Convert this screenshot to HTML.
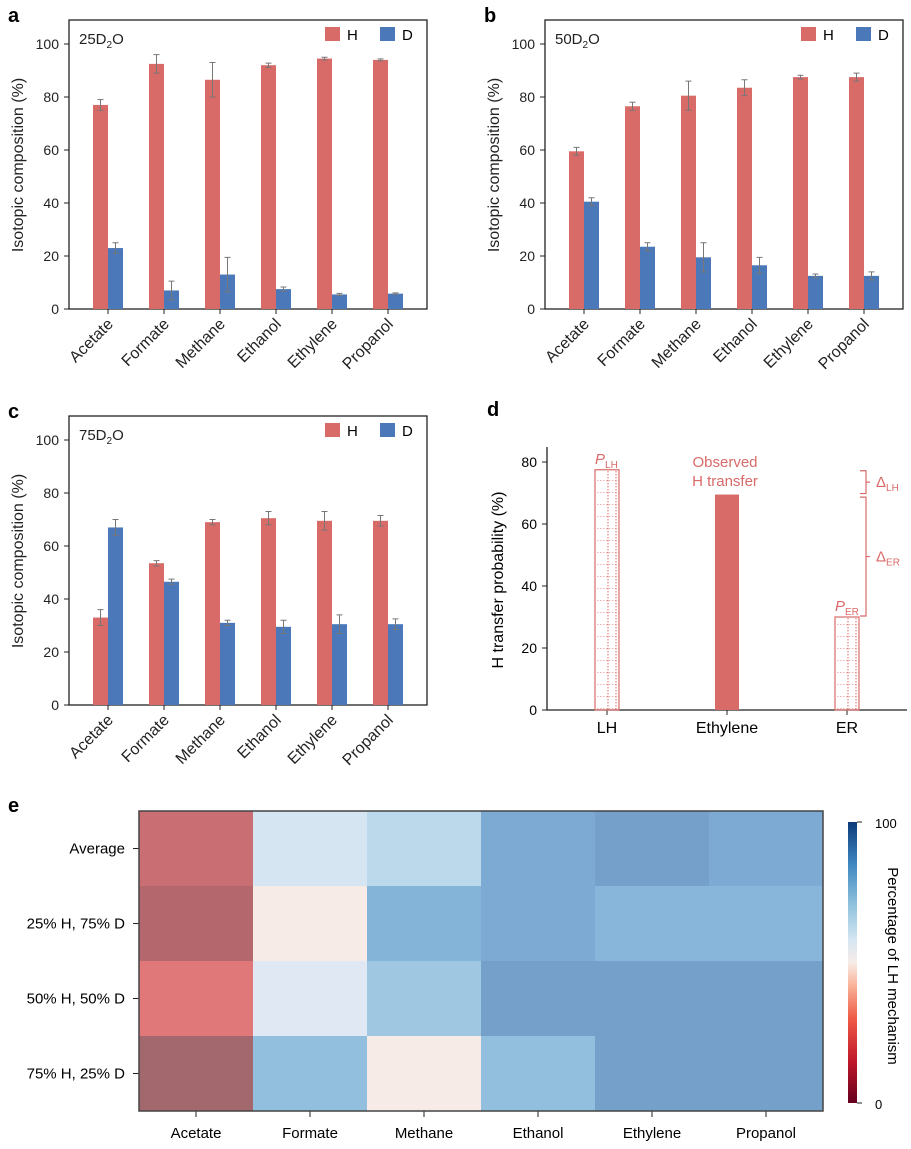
<!DOCTYPE html>
<html><head><meta charset="utf-8"><style>
html,body{margin:0;padding:0;background:#fff}
svg{display:block;font-family:"Liberation Sans",sans-serif}
</style></head><body>
<svg id="fig" width="911" height="1149" viewBox="0 0 911 1149" xmlns="http://www.w3.org/2000/svg">
<defs>
<pattern id="hatch" width="24" height="12" patternUnits="userSpaceOnUse">
<line x1="0" y1="0" x2="24" y2="0" stroke="#d86a68" stroke-width="1" stroke-dasharray="1.5,1.5"/>
<line x1="8" y1="0" x2="8" y2="12" stroke="#d86a68" stroke-width="1" stroke-dasharray="1.5,1.5"/>
<line x1="16" y1="0" x2="16" y2="12" stroke="#d86a68" stroke-width="1" stroke-dasharray="1.5,1.5"/>
</pattern>
<linearGradient id="cbar" x1="0" y1="1" x2="0" y2="0">
<stop offset="0" stop-color="#67001f"/><stop offset="0.15" stop-color="#c0182a"/><stop offset="0.3" stop-color="#ef5a45"/><stop offset="0.42" stop-color="#f9b49a"/><stop offset="0.5" stop-color="#f7ece8"/><stop offset="0.58" stop-color="#d5e6f2"/><stop offset="0.7" stop-color="#93c4de"/><stop offset="0.85" stop-color="#3d87c0"/><stop offset="1" stop-color="#0b3a79"/>
</linearGradient>
</defs>
<g id="root"></g>
</svg>
<script>
const cats = ["Acetate","Formate","Methane","Ethanol","Ethylene","Propanol"];
const aH = [77, 92.5, 86.5, 92, 94.5, 94];
const aHerr = [2, 3.5, 6.5, 0.8, 0.5, 0.4];
const aD = [23, 7, 13, 7.5, 5.5, 5.8];
const aDerr = [2, 3.5, 6.5, 0.8, 0.4, 0.3];
const bH = [59.5, 76.5, 80.5, 83.5, 87.5, 87.5];
const bHerr = [1.5, 1.5, 5.5, 3, 0.7, 1.5];
const bD = [40.5, 23.5, 19.5, 16.5, 12.5, 12.5];
const bDerr = [1.5, 1.5, 5.5, 3, 0.7, 1.5];
const cH = [33, 53.5, 69, 70.5, 69.5, 69.5];
const cHerr = [3, 1, 1, 2.5, 3.5, 2];
const cD = [67, 46.5, 31, 29.5, 30.5, 30.5];
const cDerr = [3, 1, 1, 2.5, 3.5, 2];
const yTicks = [0, 20, 40, 60, 80, 100];
const dCats = ["LH","Ethylene","ER"];
const dVals = [77.5, 69.5, 30];
const dTicks = [0, 20, 40, 60, 80];
const hmRows = ["Average","25% H, 75% D","50% H, 50% D","75% H, 25% D"];
const hmVals = [
 [15, 58, 62, 78, 82, 78],
 [10, 50, 75, 78, 73, 73],
 [20, 55, 66, 82, 82, 82],
 [0, 70, 50, 70, 82, 82]
];

const NS = "http://www.w3.org/2000/svg";
const root = document.getElementById("root");
function el(tag, attrs, parent, text){
  const e = document.createElementNS(NS, tag);
  for (const k in attrs) e.setAttribute(k, attrs[k]);
  if (text !== undefined) e.textContent = text;
  (parent || root).appendChild(e);
  return e;
}
const HC = "#d86a68", DC = "#4a78b8";

function barPanel(ox, oy, letter, tag, H, Herr, D, Derr){
  const g = el("g", {});
  
  
  const L = ox + 69, R = ox + 427, T = oy + 20, B = oy + 309;
  const y = v => B - v * 2.65;
  const x = i => ox + 108 + i * 56;
  const t = el("text", {x: ox + 8, y: oy + 22, "font-size": 20, "font-weight": "bold"}, g, letter);
  
  
  const fr = el("rect", {x: L, y: T, width: R - L, height: B - T, fill: "none", stroke: "#222", "stroke-width": 1.3}, g);
  
  
  yTicks.forEach(v => {
    el("line", {x1: L - 5, x2: L, y1: y(v), y2: y(v), stroke: "#222"}, g);
    const tl = el("text", {x: L - 10, y: y(v) + 5, "text-anchor": "end", "font-size": 14, fill: "#222"}, g, v);
    
    
  });
  const yt = el("text", {transform: `translate(${ox + 23},${oy + 165}) rotate(-90)`, "text-anchor": "middle", "font-size": 16, fill: "#222"}, g, "Isotopic composition (%)");
  
  
  cats.forEach((c, i) => {
    el("line", {x1: x(i), x2: x(i), y1: B, y2: B + 5, stroke: "#222"}, g);
    const hb = el("rect", {x: x(i) - 15, y: y(H[i]), width: 15, height: B - y(H[i]), fill: HC}, g);
    
    
    const db = el("rect", {x: x(i), y: y(D[i]), width: 15, height: B - y(D[i]), fill: DC}, g);
    
    
    [[x(i) - 7.5, H[i], Herr[i]], [x(i) + 7.5, D[i], Derr[i]]].forEach(([cx, v, e]) => {
      const eb = el("path", {d: `M${cx},${y(v - e)}V${y(v + e)}M${cx - 3},${y(v + e)}H${cx + 3}M${cx - 3},${y(v - e)}H${cx + 3}`, stroke: "#777", "stroke-width": 1, fill: "none"}, g);
      
      
    });
    const xl = el("text", {transform: `translate(${x(i) + 6},${B + 16}) rotate(-45)`, "text-anchor": "end", "font-size": 16, fill: "#222"}, g, c);
    
    
  });
  const lab = el("text", {x: ox + 79, y: oy + 44, "font-size": 15, fill: "#222"}, g);
  
  
  el("tspan", {}, lab, tag + "D");
  el("tspan", {"font-size": 10, dy: 4}, lab, "2");
  el("tspan", {dy: -4}, lab, "O");
  const lh = el("rect", {x: ox + 325, y: oy + 27, width: 15, height: 14, fill: HC}, g);
  
  
  const lht = el("text", {x: ox + 347, y: oy + 40, "font-size": 15}, g, "H");
  
  
  const ld = el("rect", {x: ox + 380, y: oy + 27, width: 15, height: 14, fill: DC}, g);
  
  
  const ldt = el("text", {x: ox + 402, y: oy + 40, "font-size": 15}, g, "D");
  
  
}
barPanel(0, 0, "a", "25", aH, aHerr, aD, aDerr);
barPanel(476, 0, "b", "50", bH, bHerr, bD, bDerr);
barPanel(0, 396, "c", "75", cH, cHerr, cD, cDerr);

// Panel d
(function(){
  const g = el("g", {});
  
  
  const L = 547, R = 907, B = 710, T = 447;
  const y = v => B - v * 3.1;
  const x = i => 607 + i * 120;
  const t = el("text", {x: 487, y: 416, "font-size": 20, "font-weight": "bold"}, g, "d");
  
  
  el("path", {d: `M${L},${T}V${B}H${R}`, stroke: "#222", fill: "none", "stroke-width": 1.3}, g);
  dTicks.forEach(v => {
    el("line", {x1: L - 5, x2: L, y1: y(v), y2: y(v), stroke: "#222"}, g);
    const tl = el("text", {x: L - 10, y: y(v) + 5, "text-anchor": "end", "font-size": 14}, g, v);
    
    
  });
  const yt = el("text", {transform: `translate(503,580) rotate(-90)`, "text-anchor": "middle", "font-size": 16}, g, "H transfer probability (%)");
  
  
  dCats.forEach((c, i) => {
    el("line", {x1: x(i), x2: x(i), y1: B, y2: B + 5, stroke: "#222"}, g);
    const xl = el("text", {x: x(i), y: B + 23, "text-anchor": "middle", "font-size": 16}, g, c);
    
    
    const hatched = i !== 1;
    const b = el("rect", {x: x(i) - 12, y: y(dVals[i]), width: 24, height: B - y(dVals[i]), fill: hatched ? "url(#hatch)" : HC, stroke: hatched ? HC : "none", "stroke-width": 1.2}, g);
    
    
  });
  const red = "#d86a68";
  function sub(xx, yy, main, s, italic, name){
    const tt = el("text", {x: xx, y: yy, "font-size": 15, fill: red}, g);
    
    
    el("tspan", italic ? {"font-style": "italic"} : {}, tt, main);
    el("tspan", {"font-size": 10, dy: 4}, tt, s);
  }
  sub(x(0) - 12, y(dVals[0]) - 6, "P", "LH", true, "p-lh-label");
  sub(x(2) - 12, y(dVals[2]) - 6, "P", "ER", true, "p-er-label");
  const ob = el("text", {x: x(1) - 2, y: 467, "text-anchor": "middle", "font-size": 15, fill: red}, g);
  
  
  el("tspan", {x: x(1) - 2, dy: 0}, ob, "Observed");
  el("tspan", {x: x(1) - 2, dy: 19}, ob, "H transfer");
  const bx = 866;
  function bracket(v1, v2, s, name){
    const y1 = y(v1) + 1, y2 = y(v2) - 1, m = (y1 + y2) / 2;
    const p = el("path", {d: `M${bx - 6},${y1}H${bx}V${y2}H${bx - 6}M${bx},${m}H${bx + 4}`, stroke: red, fill: "none", "stroke-width": 1.2}, g);
    
    
    sub(bx + 10, m + 5, "Δ", s, false, name + '-label');
  }
  bracket(dVals[0], dVals[1], "LH", "delta-lh");
  bracket(dVals[1] - 0.5, dVals[2], "ER", "delta-er");
})();

// Panel e heatmap
const stops = [[0,"#a2686d"],[10,"#b4686d"],[15,"#c96e73"],[20,"#e07779"],[50,"#f6ebe6"],[55,"#dfe8f3"],[58,"#d6e5f2"],[62,"#bcd9eb"],[66,"#a0c7e1"],[70,"#92bfdd"],[73,"#87b6da"],[75,"#85b4d9"],[78,"#7daad3"],[82,"#74a0c9"],[100,"#1f5a9a"]];
function hex(h){return [1,3,5].map(i=>parseInt(h.substr(i,2),16));}
function color(v){
  for (let i = 0; i < stops.length - 1; i++){
    const [a, ca] = stops[i], [b, cb] = stops[i + 1];
    if (v <= b){
      const t = (v - a) / (b - a), A = hex(ca), Bc = hex(cb);
      return "rgb(" + A.map((c, k) => Math.round(c + (Bc[k] - c) * t)).join(",") + ")";
    }
  }
  return stops[stops.length - 1][1];
}
(function(){
  const g = el("g", {});
  
  
  const L = 139, T = 811, cw = 114, rh = 75;
  const t = el("text", {x: 8, y: 812, "font-size": 20, "font-weight": "bold"}, g, "e");
  
  
  hmVals.forEach((row, r) => {
    row.forEach((v, c) => {
      const cell = el("rect", {x: L + c * cw, y: T + r * rh, width: cw, height: rh, fill: color(v)}, g);
      
      
    });
    el("line", {x1: L - 6, x2: L, y1: T + r * rh + rh / 2, y2: T + r * rh + rh / 2, stroke: "#222"}, g);
    const rl = el("text", {x: L - 14, y: T + r * rh + rh / 2 + 5, "text-anchor": "end", "font-size": 15}, g, hmRows[r]);
    
    
  });
  cats.forEach((c, i) => {
    el("line", {x1: L + i * cw + cw / 2, x2: L + i * cw + cw / 2, y1: T + 4 * rh, y2: T + 4 * rh + 6, stroke: "#222"}, g);
    const cl = el("text", {x: L + i * cw + cw / 2, y: 1138, "text-anchor": "middle", "font-size": 15}, g, c);
    
    
  });
  const fr = el("rect", {x: L, y: T, width: 6 * cw, height: 4 * rh, fill: "none", stroke: "#444", "stroke-width": 1.5}, g);
  
  
  const cb = el("rect", {x: 848, y: 822, width: 9, height: 281, fill: "url(#cbar)"}, g);
  
  
  el("line", {x1: 857, x2: 862, y1: 822, y2: 822, stroke: "#222"}, g);
  el("line", {x1: 857, x2: 862, y1: 1103, y2: 1103, stroke: "#222"}, g);
  const c1 = el("text", {x: 875, y: 828, "font-size": 13}, g, "100");
  
  
  const c0 = el("text", {x: 875, y: 1109, "font-size": 13}, g, "0");
  
  
  const ct = el("text", {transform: "translate(888,966) rotate(90)", "text-anchor": "middle", "font-size": 15}, g, "Percentage of LH mechanism");
  
  
})();
</script>
</body></html>
